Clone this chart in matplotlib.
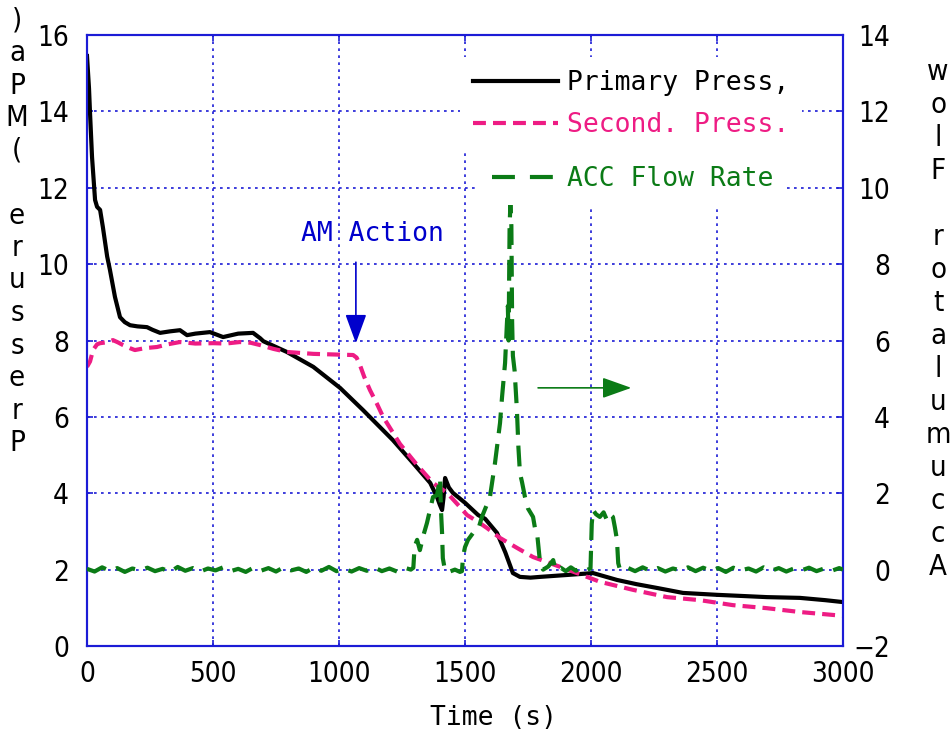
import matplotlib
matplotlib.use("Agg")
import matplotlib.pyplot as plt
from matplotlib import font_manager
from matplotlib.font_manager import FontProperties
from matplotlib.lines import Line2D

# ---------------------------------------------------------------- data
primary_time = [0, 8, 12, 20, 32, 40, 52, 63, 80, 91, 111, 131, 150, 171, 200,
                238, 260, 290, 330, 369, 397, 430, 488, 540, 600, 659, 687,
                700, 793, 898, 1004, 1095, 1214, 1294, 1362, 1389, 1400, 1409,
                1415, 1421, 1436, 1452, 1500, 1552, 1580, 1627, 1660, 1690,
                1718, 1760, 1798, 1905, 2008, 2103, 2180, 2262, 2365, 2500,
                2600, 2698, 2829, 2930, 3000]
primary_press = [15.45, 14.6, 13.96, 12.8, 11.68, 11.5, 11.42, 10.97, 10.2,
                 9.85, 9.14, 8.61, 8.48, 8.40, 8.37, 8.35, 8.28, 8.20, 8.24,
                 8.27, 8.14, 8.18, 8.22, 8.09, 8.18, 8.20, 8.06, 7.98, 7.70,
                 7.31, 6.76, 6.18, 5.39, 4.79, 4.27, 3.90, 3.70, 3.56, 3.90,
                 4.40, 4.15, 4.01, 3.75, 3.43, 3.33, 2.96, 2.45, 1.91, 1.81,
                 1.79, 1.81, 1.86, 1.91, 1.73, 1.62, 1.52, 1.39, 1.34, 1.31,
                 1.28, 1.26, 1.20, 1.15]

secondary_time = [0, 12, 24, 40, 52, 75, 103, 123, 143, 170, 190, 230, 278,
                  320, 369, 430, 500, 550, 607, 650, 687, 740, 793, 898, 1000,
                  1056, 1070, 1083, 1100, 1123, 1150, 1175, 1242, 1310, 1373,
                  1429, 1480, 1508, 1552, 1587, 1639, 1706, 1770, 1837, 1944,
                  2036, 2167, 2302, 2433, 2563, 2698, 2829, 3000]
secondary_press = [7.31, 7.45, 7.75, 7.90, 7.93, 7.95, 8.01, 7.95, 7.88, 7.80,
                   7.75, 7.80, 7.83, 7.90, 7.96, 7.92, 7.93, 7.92, 7.96, 7.94,
                   7.88, 7.78, 7.70, 7.65, 7.63, 7.62, 7.55, 7.36, 7.05, 6.70,
                   6.35, 6.00, 5.29, 4.74, 4.27, 4.01, 3.64, 3.43, 3.25, 3.09,
                   2.83, 2.57, 2.33, 2.17, 1.91, 1.68, 1.47, 1.28, 1.20, 1.07,
                   0.99, 0.89, 0.79]

flow_time = [0, 30, 60, 90, 120, 150, 180, 210, 240, 270, 300, 330, 360, 390,
             420, 450, 480, 510, 540, 570, 600, 630, 660, 690, 720, 750, 780,
             810, 840, 870, 900, 930, 960, 990, 1020, 1050, 1080, 1110, 1140,
             1170, 1200, 1230, 1260, 1285,
             1295, 1300, 1310, 1321, 1335, 1349, 1373, 1389, 1401, 1405, 1409,
             1412, 1420, 1429, 1440, 1460, 1480, 1488, 1492, 1500, 1512, 1532,
             1552, 1567, 1599, 1619, 1639, 1647, 1659, 1666, 1670, 1673, 1677,
             1680, 1684, 1687, 1690, 1697, 1706, 1712, 1718, 1726, 1738, 1750,
             1770, 1780, 1786, 1798, 1810,
             1830, 1850, 1860, 1880, 1900, 1920, 1940, 1960, 1980, 1998,
             2003, 2008, 2020, 2035, 2050, 2063, 2075, 2087, 2095, 2103, 2108,
             2115, 2145, 2175, 2205, 2235, 2265, 2295, 2325, 2355, 2385, 2415,
             2445, 2475, 2505, 2535, 2565, 2595, 2625, 2655, 2685, 2715, 2745,
             2775, 2805, 2835, 2865, 2895, 2925, 2955, 2985, 3000]
flow_rate = [0.02, -0.05, 0.06, -0.03, 0.04, -0.06, 0.03, -0.02, 0.05, -0.04,
             0.02, -0.06, 0.07, -0.03, 0.04, -0.05, 0.03, -0.02, 0.06, -0.04,
             0.02, -0.06, 0.05, -0.03, 0.04, -0.05, 0.06, -0.02, 0.03, -0.06,
             0.05, -0.03, 0.07, -0.04, 0.02, -0.05, 0.04, -0.03, 0.06, -0.04,
             0.03, -0.05, 0.05, 0.00,
             0.05, 0.60, 0.78, 0.51, 0.90, 1.22, 1.90, 1.95, 2.40, 1.50, 0.96,
             0.30, 0.00, -0.06, -0.05, 0.00, -0.06, -0.04, 0.33, 0.59, 0.78,
             0.96, 1.04, 1.38, 1.90, 2.79, 3.84, 4.52, 5.41, 6.40, 6.90, 6.00,
             9.00, 9.55, 9.00, 6.50, 5.60, 5.20, 4.18, 3.20, 2.53, 2.30, 1.90,
             1.60, 1.38, 1.00, 0.96, 0.17, 0.00,
             0.08, 0.25, -0.02, 0.05, -0.04, 0.06, -0.03, 0.04, -0.02, 0.03,
             1.20, 1.56, 1.45, 1.38, 1.50, 1.30, 1.45, 1.38, 1.10, 0.78, 0.17,
             0.00, 0.05, -0.04, 0.06, -0.03, 0.04, -0.05, 0.03, -0.02, 0.06,
             -0.04, 0.05, -0.03, 0.04, -0.06, 0.05, -0.02, 0.03, -0.05, 0.06,
             -0.03, 0.04, -0.05, 0.03, -0.02, 0.05, -0.04, 0.03, -0.03, 0.04,
             0.00]

time_ticks = [0, 500, 1000, 1500, 2000, 2500, 3000]
press_ticks = [0, 2, 4, 6, 8, 10, 12, 14, 16]
flow_ticks = [-2, 0, 2, 4, 6, 8, 10, 12, 14]

# ---------------------------------------------------------------- fonts
MONO = "DejaVu Sans Mono"


def find_narrow_font():
    """Return the file of an upright regular narrow/condensed sans, if any."""
    for f in font_manager.fontManager.ttflist:
        name = f.fname.lower()
        if ("narrow" in name or "condensed" in name) and "mono" not in name \
                and "serif" not in name and f.weight in (400, "normal", "regular") \
                and f.style == "normal":
            return f.fname
    return None


narrow_file = find_narrow_font()
if narrow_file:
    def tick_font(size):
        return FontProperties(fname=narrow_file, size=size)
    TICK_SIZE = 20
    STACK_SIZE = 21
else:
    def tick_font(size):
        return FontProperties(family=MONO, size=size)
    TICK_SIZE = 16.5
    STACK_SIZE = 19

BLUE = "#1c1cd6"
PINK = "#ee1c84"
GREEN = "#0b7b16"
TEXT_BLUE = "#0000cc"

W, H = 951, 736
fig = plt.figure(figsize=(W / 100, H / 100), dpi=100)
ax = fig.add_axes([87 / W, 1 - 646 / H, 756 / W, 611 / H])
ax2 = ax.twinx()

ax.set_xlim(0, 3000)
ax.set_ylim(0, 16)
ax2.set_ylim(-2, 14)

ax.plot(primary_time, primary_press, color="black", lw=3.0,
        solid_joinstyle="round", zorder=3)
ax.plot(secondary_time, secondary_press, color=PINK, lw=3.0,
        dashes=(3.1, 1.7), zorder=4)
ax2.plot(flow_time, flow_rate, color=GREEN, lw=3.0, dashes=(5.0, 2.6), zorder=3)

# grid, frame, ticks
ax.set_xticks(time_ticks)
ax.set_yticks(press_ticks)
ax2.set_yticks(flow_ticks)
ax.set_xticklabels([str(v) for v in time_ticks])
ax.set_yticklabels([str(v) for v in press_ticks])
ax2.set_yticklabels([str(v) if v >= 0 else f"\u2212{-v}" for v in flow_ticks])
ax.grid(True, color=BLUE, linestyle=(0, (1.6, 2.6)), linewidth=1.2)
for a in (ax, ax2):
    for s in a.spines.values():
        s.set_color(BLUE)
        s.set_linewidth(1.5)
ax.tick_params(axis="both", direction="in", length=4, width=1.2, color=BLUE,
               labelcolor="black")
ax.tick_params(axis="y", pad=13)
ax.tick_params(axis="x", pad=10, top=True)
ax2.tick_params(axis="y", direction="in", length=4, width=1.2, color=BLUE,
                labelcolor="black", pad=34)
for lab in ax.get_xticklabels() + ax.get_yticklabels():
    lab.set_fontproperties(tick_font(TICK_SIZE))
for lab in ax2.get_yticklabels():
    lab.set_fontproperties(tick_font(TICK_SIZE))
    lab.set_horizontalalignment("right")


# axis titles: characters stacked upright, reading upward
def stacked(text, x_px, y_bottom_px, step_px):
    for i, ch in enumerate(text):
        if ch == " ":
            continue
        fig.text(x_px / W, 1 - (y_bottom_px - i * step_px) / H, ch,
                 ha="center", va="center", fontproperties=tick_font(STACK_SIZE))


stacked("Pressure (MPa)", 17, 443, 32.5)
stacked("Accumulator Flow", 938, 567, 33.0)
fig.text(494 / W, 1 - 718 / H, "Time (s)", ha="center", va="center",
         fontsize=19, family=MONO)

# legends
h1 = Line2D([], [], color="black", lw=3.0)
h2 = Line2D([], [], color=PINK, lw=3.0, dashes=(3.1, 1.7))
h3 = Line2D([], [], color=GREEN, lw=3.0, dashes=(5.5, 3.6))
leg1 = ax.legend([h1, h2], ["Primary Press,", "Second. Press."],
                 loc="upper left", bbox_to_anchor=(0.4934, 0.9640),
                 borderaxespad=0, borderpad=0.5, handlelength=3.2,
                 handletextpad=0.34, labelspacing=0.6, fancybox=False,
                 framealpha=1, facecolor="white", edgecolor="none",
                 prop={"family": MONO, "size": 19})
leg1.get_texts()[1].set_color(PINK)
leg1.set_zorder(10)
leg2 = ax2.legend([h3], ["ACC Flow Rate"],
                  loc="upper left", bbox_to_anchor=(0.5185, 0.8069),
                  borderaxespad=0, borderpad=0.5, handlelength=2.4,
                  handletextpad=0.45, fancybox=False, framealpha=1,
                  facecolor="white", edgecolor="none",
                  prop={"family": MONO, "size": 19})
leg2.get_texts()[0].set_color(GREEN)
leg2.set_zorder(10)

# annotations
ax.text(1131, 10.80, "AM Action", color=TEXT_BLUE, ha="center", va="center",
        fontsize=19, family=MONO)
ax.annotate("", xy=(1067, 7.93), xytext=(1067, 10.05),
            arrowprops=dict(arrowstyle="-|>,head_length=0.9,head_width=0.33",
                            color=TEXT_BLUE, lw=1.2, mutation_scale=20,
                            shrinkA=0, shrinkB=0))
ax.annotate("", xy=(2160, 6.76), xytext=(1790, 6.76),
            arrowprops=dict(arrowstyle="-|>,head_length=0.9,head_width=0.32",
                            color=GREEN, lw=1.2, mutation_scale=20,
                            shrinkA=0, shrinkB=0))

fig.savefig("out.png", dpi=100)
